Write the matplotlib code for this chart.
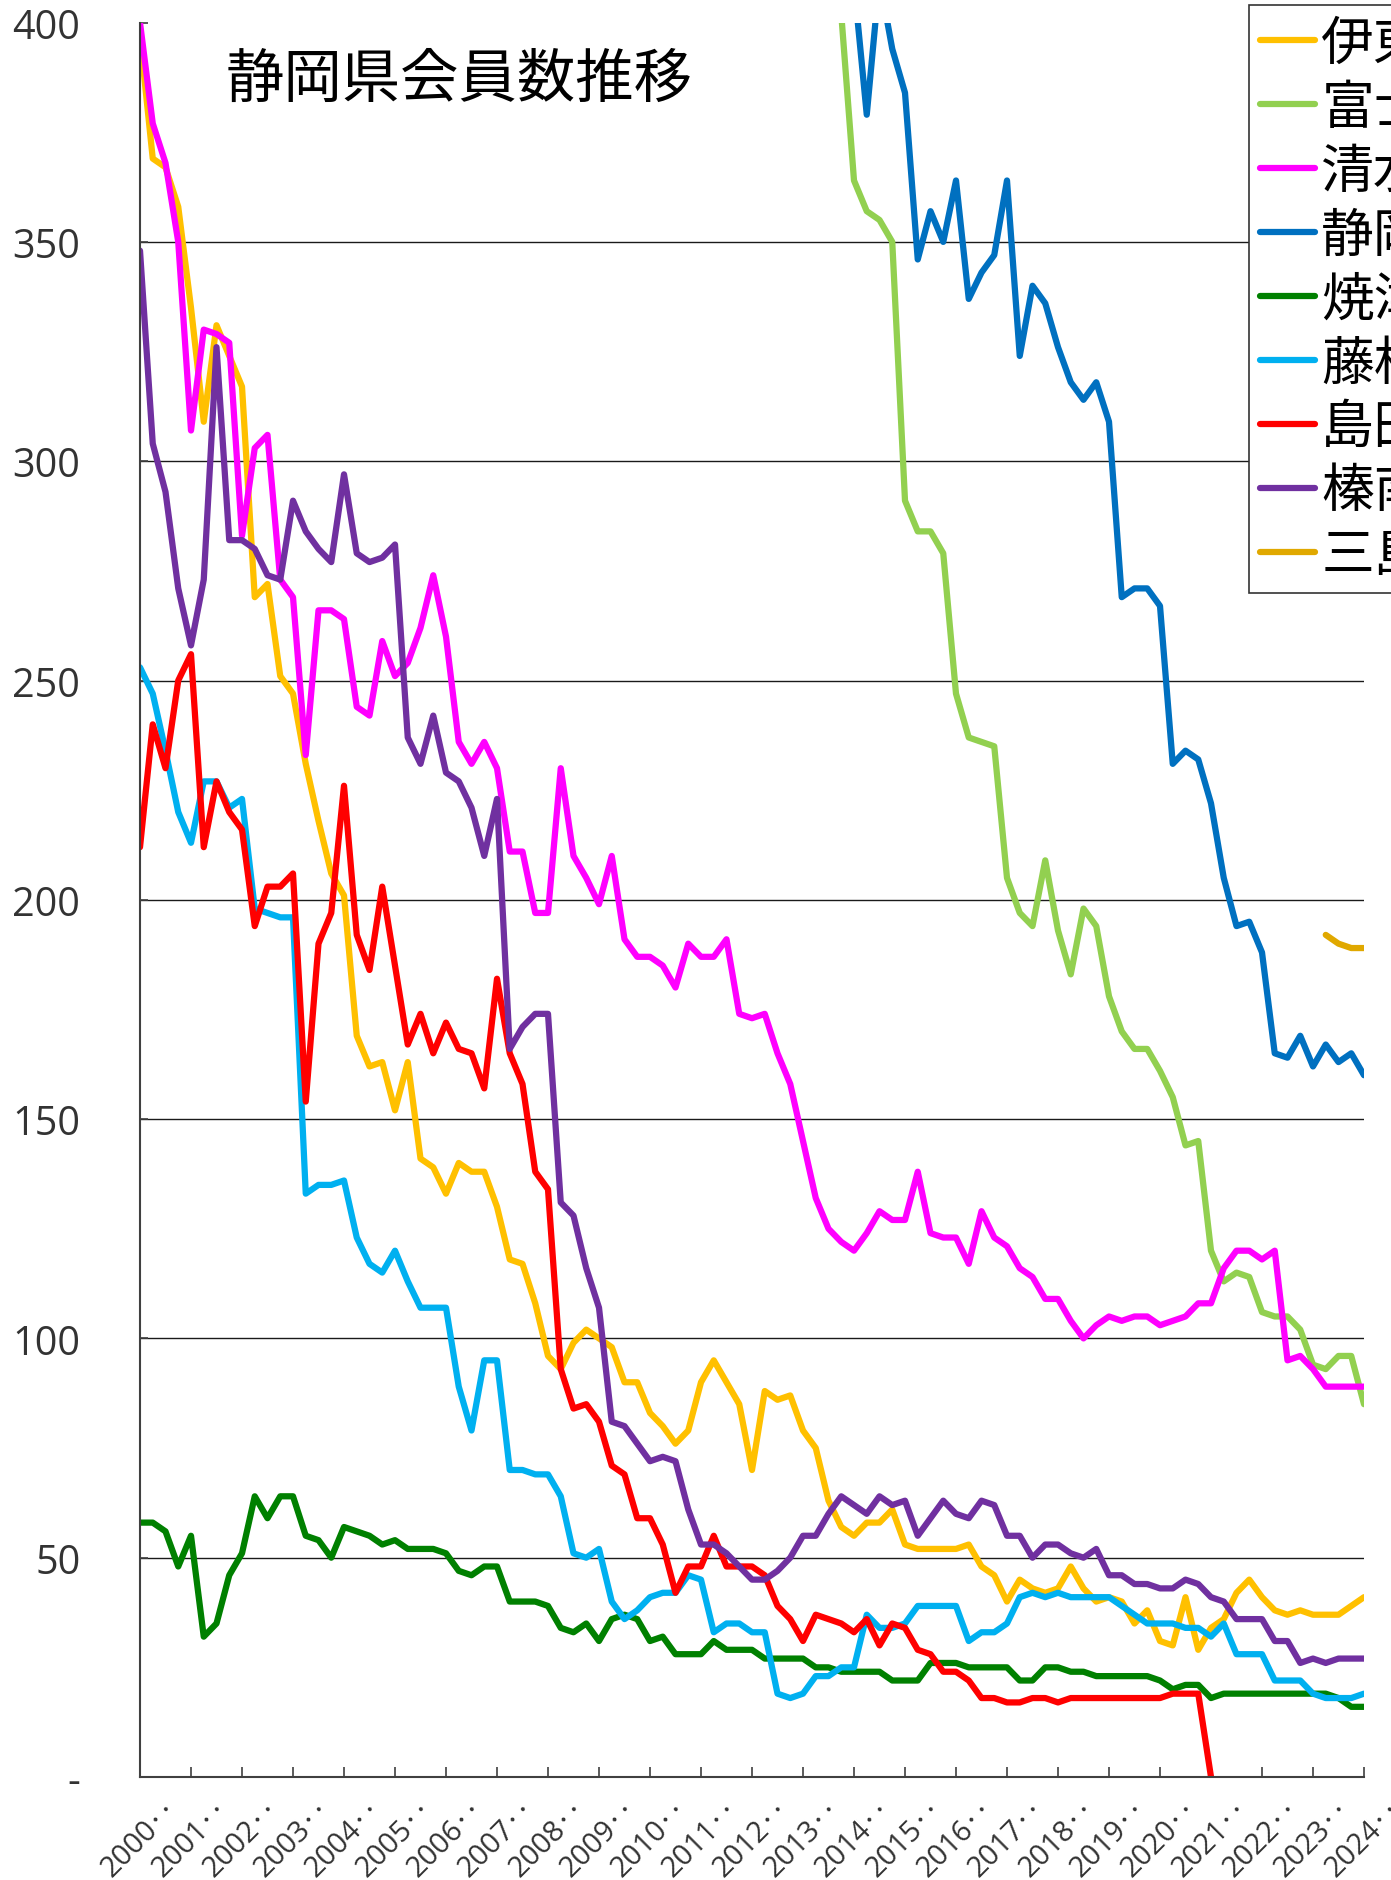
import numpy as np
import matplotlib
matplotlib.use('Agg')
import matplotlib.pyplot as plt
from matplotlib import transforms
from matplotlib.lines import Line2D

plt.rcParams['font.family'] = ['Noto Sans CJK JP', 'DejaVu Sans']

nan = np.nan
years = list(range(2000, 2025))
x_labels = [f"{y}‥" for y in years]
y_ticks = [0, 50, 100, 150, 200, 250, 300, 350, 400]
y_labels = ["-", "50", "100", "150", "200", "250", "300", "350", "400"]
title = "静岡県会員数推移"

names = ["伊東", "富士", "清水", "静岡", "焼津", "藤枝", "島田", "榛南", "三島"]
colors = ["#FFC000", "#92D050", "#FF00FF", "#0070C0", "#008000",
          "#00B0F0", "#FF0000", "#7030A0", "#E0A800"]

ito = [397, 369, 367, 358, 335, 309, 331, 324, 317, 269,
       272, 251, 247, 231, 218, 206, 201, 169, 162, 163,
       152, 163, 141, 139, 133, 140, 138, 138, 130, 118,
       117, 108, 96, 93, 99, 102, 100, 98, 90, 90,
       83, 80, 76, 79, 90, 95, 90, 85, 70, 88,
       86, 87, 79, 75, 63, 57, 55, 58, 58, 61,
       53, 52, 52, 52, 52, 53, 48, 46, 40, 45,
       43, 42, 43, 48, 43, 40, 41, 40, 35, 38,
       31, 30, 41, 29, 34, 36, 42, 45, 41, 38,
       37, 38, 37, 37, 37, 39, 41]

fuji = [nan] * 55 + [
       402, 364, 357, 355, 350, 291, 284, 284, 279, 247,
       237, 236, 235, 205, 197, 194, 209, 193, 183, 198,
       194, 178, 170, 166, 166, 161, 155, 144, 145, 120,
       113, 115, 114, 106, 105, 105, 102, 94, 93, 96,
       96, 85]

shimizu = [400, 377, 368, 350, 307, 330, 329, 327, 283, 303,
       306, 273, 269, 233, 266, 266, 264, 244, 242, 259,
       251, 254, 262, 274, 260, 236, 231, 236, 230, 211,
       211, 197, 197, 230, 210, 205, 199, 210, 191, 187,
       187, 185, 180, 190, 187, 187, 191, 174, 173, 174,
       165, 158, 145, 132, 125, 122, 120, 124, 129, 127,
       127, 138, 124, 123, 123, 117, 129, 123, 121, 116,
       114, 109, 109, 104, 100, 103, 105, 104, 105, 105,
       103, 104, 105, 108, 108, 116, 120, 120, 118, 120,
       95, 96, 93, 89, 89, 89, 89]

shizuoka = [nan] * 56 + [
       409, 379, 410, 394, 384, 346, 357, 350, 364, 337,
       343, 347, 364, 324, 340, 336, 326, 318, 314, 318,
       309, 269, 271, 271, 267, 231, 234, 232, 222, 205,
       194, 195, 188, 165, 164, 169, 162, 167, 163, 165,
       160]

yaizu = [58, 58, 56, 48, 55, 32, 35, 46, 51, 64,
       59, 64, 64, 55, 54, 50, 57, 56, 55, 53,
       54, 52, 52, 52, 51, 47, 46, 48, 48, 40,
       40, 40, 39, 34, 33, 35, 31, 36, 37, 36,
       31, 32, 28, 28, 28, 31, 29, 29, 29, 27,
       27, 27, 27, 25, 25, 24, 24, 24, 24, 22,
       22, 22, 26, 26, 26, 25, 25, 25, 25, 22,
       22, 25, 25, 24, 24, 23, 23, 23, 23, 23,
       22, 20, 21, 21, 18, 19, 19, 19, 19, 19,
       19, 19, 19, 19, 18, 16, 16]

fujieda = [253, 247, 234, 220, 213, 227, 227, 221, 223, 198,
       197, 196, 196, 133, 135, 135, 136, 123, 117, 115,
       120, 113, 107, 107, 107, 89, 79, 95, 95, 70,
       70, 69, 69, 64, 51, 50, 52, 40, 36, 38,
       41, 42, 42, 46, 45, 33, 35, 35, 33, 33,
       19, 18, 19, 23, 23, 25, 25, 37, 34, 34,
       35, 39, 39, 39, 39, 31, 33, 33, 35, 41,
       42, 41, 42, 41, 41, 41, 41, 39, 37, 35,
       35, 35, 34, 34, 32, 35, 28, 28, 28, 22,
       22, 22, 19, 18, 18, 18, 19]

shimada = [212, 240, 230, 250, 256, 212, 227, 220, 216, 194,
       203, 203, 206, 154, 190, 197, 226, 192, 184, 203,
       185, 167, 174, 165, 172, 166, 165, 157, 182, 165,
       158, 138, 134, 93, 84, 85, 81, 71, 69, 59,
       59, 53, 42, 48, 48, 55, 48, 48, 48, 46,
       39, 36, 31, 37, 36, 35, 33, 36, 30, 35,
       34, 29, 28, 24, 24, 22, 18, 18, 17, 17,
       18, 18, 17, 18, 18, 18, 18, 18, 18, 18,
       18, 19, 19, 19, 0] + [nan] * 12

haibara = [348, 304, 293, 271, 258, 273, 326, 282, 282, 280,
       274, 273, 291, 284, 280, 277, 297, 279, 277, 278,
       281, 237, 231, 242, 229, 227, 221, 210, 223, 166,
       171, 174, 174, 131, 128, 116, 107, 81, 80, 76,
       72, 73, 72, 61, 53, 53, 51, 48, 45, 45,
       47, 50, 55, 55, 60, 64, 62, 60, 64, 62,
       63, 55, 59, 63, 60, 59, 63, 62, 55, 55,
       50, 53, 53, 51, 50, 52, 46, 46, 44, 44,
       43, 43, 45, 44, 41, 40, 36, 36, 36, 31,
       31, 26, 27, 26, 27, 27, 27]

mishima = [nan] * 93 + [192, 190, 189, 189]

series = [ito, fuji, shimizu, shizuoka, yaizu, fujieda, shimada, haibara, mishima]

W, H, DPI = 1391, 1881, 100
fig = plt.figure(figsize=(W / DPI, H / DPI), dpi=DPI)
ax = fig.add_axes([140 / W, 1 - 1778 / H, 1224 / W, (1778 - 23.6) / H])

x = np.arange(97)
lw = 4.5
for vals, c, n in zip(series, colors, names):
    ax.plot(x, np.array(vals, dtype=float), color=c, lw=lw, label=n,
            solid_capstyle='round', solid_joinstyle='round', zorder=3)

ax.set_xlim(0, 96)
ax.set_ylim(0, 400)

ax.set_yticks(y_ticks, y_labels)
ax.yaxis.grid(True, color='#1a1a1a', lw=1.0, zorder=1)
ax.set_axisbelow(True)
gls = ax.yaxis.get_gridlines()
gls[0].set_visible(False)
gls[-1].set_visible(False)
ax.tick_params(axis='y', direction='in', length=6, width=1.2, color='#404040',
               pad=43, labelsize=28.5, labelcolor='#333333')
for lab in ax.get_yticklabels():
    lab.set_fontfamily(['Open Sans', 'DejaVu Sans'])

tick_pos = x[::4]
ax.set_xticks(tick_pos, x_labels, rotation=45, ha='right', va='top',
              rotation_mode='anchor')
ax.tick_params(axis='x', direction='in', length=7, width=1.2, color='#404040',
               pad=12, labelsize=21, labelcolor='#333333')
offset = transforms.ScaledTranslation(24 / DPI, 0, fig.dpi_scale_trans)
for lab in ax.get_xticklabels():
    lab.set_fontfamily(['Open Sans', 'Noto Sans CJK JP', 'DejaVu Sans'])
    lab.set_transform(lab.get_transform() + offset)

for s in ['top', 'right']:
    ax.spines[s].set_visible(False)
for s in ['left', 'bottom']:
    ax.spines[s].set_color('#404040')
    ax.spines[s].set_linewidth(1.5)
    ax.spines[s].set_zorder(4)

fig.text(459 / W, 1 - 80 / H, title, fontsize=42, ha='center', va='center',
         color='black')

handles = [Line2D([], [], color=c, lw=lw, solid_capstyle='round') for c in colors]
leg = fig.legend(handles, names, loc='upper left',
                 bbox_to_anchor=(1249 / W, 1 - 6 / H),
                 bbox_transform=fig.transFigure,
                 prop={'family': ['Noto Sans CJK JP', 'DejaVu Sans'], 'size': 38},
                 frameon=True, fancybox=False, shadow=False,
                 edgecolor='#333333', framealpha=1, borderpad=0.2,
                 labelspacing=0.17, handlelength=1.05, handletextpad=0.12,
                 borderaxespad=0)
leg.get_frame().set_linewidth(1.2)

fig.savefig('out.png', dpi=DPI)
